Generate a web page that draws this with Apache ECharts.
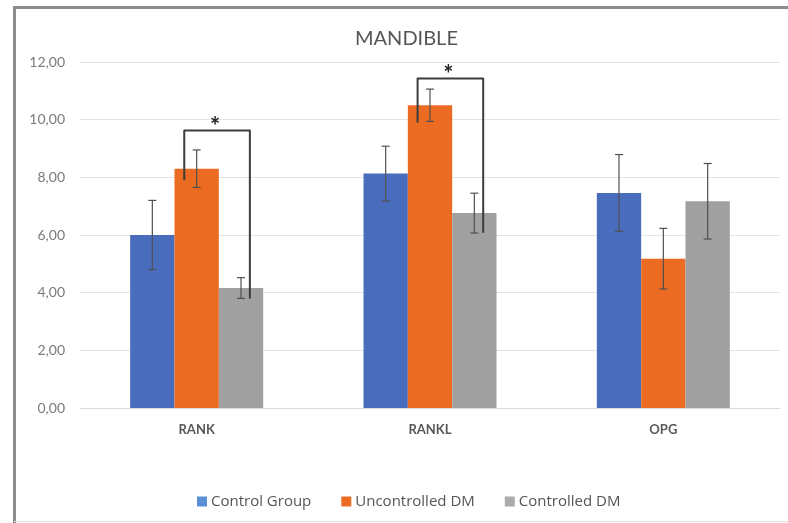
<!DOCTYPE html>
<html>
<head>
<meta charset="utf-8">
<script src="https://cdn.jsdelivr.net/npm/echarts@6/dist/echarts.min.js"></script>
<style>
  html, body { margin: 0; padding: 0; background: #ffffff; }
  #chart { width: 788px; height: 523px; }
</style>
</head>
<body>
<div id="chart"></div>
<script>
// Mandible marker levels by group, mean with SD whiskers
const categories = ['RANK', 'RANKL', 'OPG'];
const groupNames = ['Control Group', 'Uncontrolled DM', 'Controlled DM'];

const controlMean = [6.00, 8.13, 7.46];
const controlSd = [1.20, 0.95, 1.33];
const uncontrolledMean = [8.30, 10.50, 5.18];
const uncontrolledSd = [0.65, 0.56, 1.05];
const controlledMean = [4.16, 6.76, 7.17];
const controlledSd = [0.36, 0.69, 1.31];

// significance brackets: category, left foot, top, right foot
const bracketCategory = [0, 1];
const bracketLeftFoot = [7.90, 9.90];
const bracketTop = [9.62, 11.43];
const bracketRightFoot = [3.80, 6.08];
const bracketMark = ['*', '*'];

const yTicks = [0, 2, 4, 6, 8, 10, 12];

const colors = ['#4a6cbd', '#eb6b23', '#a0a0a0'];
const legendColors = ['#5b8fd6', '#eb6b23', '#ababab'];
const FONT = 'Lato, "Open Sans", sans-serif';
const LEGEND_FONT = '"Open Sans", Lato, sans-serif';
const CAT_GAP = 0.43;

const means = [controlMean, uncontrolledMean, controlledMean];
const sds = [controlSd, uncontrolledSd, controlledSd];

const chart = echarts.init(document.getElementById('chart'));

function barWidthOf(api) {
  const band = api.size([1, 0])[0];
  return band * (1 - CAT_GAP) / 3;
}

function errorSeries(idx) {
  return {
    type: 'custom',
    name: groupNames[idx] + ' SD',
    z: 5,
    silent: true,
    data: categories.map((c, i) => [i, means[idx][i] - sds[idx][i], means[idx][i] + sds[idx][i]]),
    renderItem: function (params, api) {
      const bw = barWidthOf(api);
      const off = (idx - 1) * bw;
      const lo = api.coord([api.value(0), api.value(1)]);
      const hi = api.coord([api.value(0), api.value(2)]);
      const x = lo[0] + off;
      const cap = 4;
      const style = { stroke: '#505050', lineWidth: 1.2 };
      return {
        type: 'group',
        children: [
          { type: 'line', shape: { x1: x, y1: lo[1], x2: x, y2: hi[1] }, style: style },
          { type: 'line', shape: { x1: x - cap, y1: lo[1], x2: x + cap, y2: lo[1] }, style: style },
          { type: 'line', shape: { x1: x - cap, y1: hi[1], x2: x + cap, y2: hi[1] }, style: style }
        ]
      };
    }
  };
}

const barSeries = groupNames.map((name, idx) => ({
  type: 'bar',
  name: name,
  data: means[idx],
  barGap: '0%',
  barCategoryGap: (CAT_GAP * 100) + '%',
  itemStyle: { color: colors[idx] },
  emphasis: { disabled: true }
}));

const bracketSeries = {
  type: 'custom',
  name: 'significance',
  z: 6,
  silent: true,
  data: bracketCategory.map((c, i) => [c, bracketLeftFoot[i], bracketTop[i], bracketRightFoot[i], i]),
  renderItem: function (params, api) {
    const bw = barWidthOf(api);
    const cat = api.value(0);
    const leftBase = api.coord([cat, api.value(1)]);
    const topPt = api.coord([cat, api.value(2)]);
    const rightBase = api.coord([cat, api.value(3)]);
    // left foot sits on the Uncontrolled DM bar, right foot past the Controlled DM bar
    const xl = leftBase[0] - 0.28 * bw;
    const xr = leftBase[0] + bw + 0.20 * bw;
    const i = api.value(4);
    return {
      type: 'group',
      children: [
        {
          type: 'polyline',
          shape: { points: [[xl, leftBase[1]], [xl, topPt[1]], [xr, topPt[1]], [xr, rightBase[1]]] },
          style: { stroke: '#3c3c3c', lineWidth: 2, fill: null, lineJoin: 'round' }
        },
        {
          type: 'text',
          x: (xl + xr) / 2 - 2,
          y: topPt[1] - 3,
          style: {
            text: bracketMark[i],
            fill: '#222222',
            font: 'bold 24px ' + FONT,
            align: 'center',
            verticalAlign: 'middle'
          }
        }
      ]
    };
  }
};

const option = {
  backgroundColor: '#ffffff',
  animation: false,
  textStyle: { fontFamily: FONT },
  title: {
    text: 'MANDIBLE',
    left: 350,
    top: 24,
    textStyle: { fontSize: 20, fontWeight: 'normal', color: '#555555', fontFamily: FONT }
  },
  legend: {
    data: groupNames.map((n, i) => ({ name: n, itemStyle: { color: legendColors[i] } })),
    left: 192,
    top: 489,
    icon: 'rect',
    itemWidth: 10,
    itemHeight: 10,
    itemGap: 30,
    textStyle: { fontSize: 15, color: '#555555', fontFamily: LEGEND_FONT, padding: [0, 0, 0, -1] },
    selectedMode: false
  },
  grid: { left: 80, right: 8, top: 62, bottom: 115, containLabel: false },
  xAxis: {
    type: 'category',
    data: categories,
    axisLine: { lineStyle: { color: '#d9d9d9' } },
    axisTick: { show: false },
    axisLabel: { color: '#595959', fontSize: 13, fontWeight: 'bold', margin: 15, fontFamily: FONT }
  },
  yAxis: {
    type: 'value',
    min: yTicks[0],
    max: yTicks[yTicks.length - 1],
    interval: yTicks[1] - yTicks[0],
    axisLine: { show: false },
    axisTick: { show: false },
    splitLine: { lineStyle: { color: '#e3e3e3', width: 1 } },
    axisLabel: {
      color: '#7a7a7a',
      fontSize: 14,
      margin: 15,
      fontFamily: FONT,
      formatter: v => v.toFixed(2).replace('.', ',')
    }
  },
  series: barSeries.concat([0, 1, 2].map(errorSeries), [bracketSeries]),
  graphic: [
    { type: 'line', shape: { x1: 14, y1: 7.5, x2: 788, y2: 7.5 }, style: { stroke: '#8c8c8c', lineWidth: 3 } },
    { type: 'line', shape: { x1: 14.5, y1: 6, x2: 14.5, y2: 523 }, style: { stroke: '#8c8c8c', lineWidth: 3 } },
    { type: 'line', shape: { x1: 14, y1: 521.5, x2: 788, y2: 521.5 }, style: { stroke: '#e2e2e2', lineWidth: 1 } }
  ]
};

chart.setOption(option);
</script>
</body>
</html>
